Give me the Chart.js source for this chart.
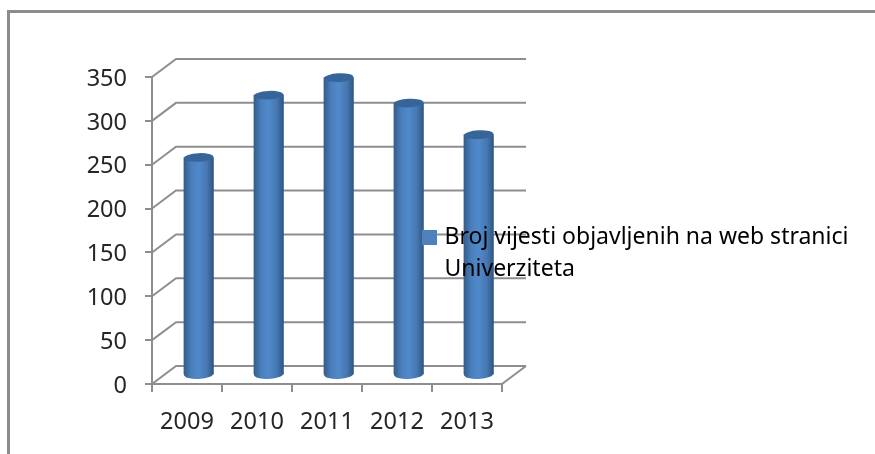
<!DOCTYPE html>
<html>
<head>
<meta charset="utf-8">
<title>Broj vijesti</title>
<script src="https://cdn.jsdelivr.net/npm/chart.js@4/dist/chart.umd.min.js"></script>
<style>
  html, body { margin: 0; padding: 0; background: #fff; overflow: hidden; }
  #wrap { position: relative; width: 875px; height: 454px; }
  #frame { position: absolute; left: 7px; top: 10px; right: 0; bottom: 0; border-top: 3px solid #8c8c8c; border-left: 3px solid #8c8c8c; }
  #chart { position: absolute; left: 0; top: 0; }
</style>
</head>
<body>
<div id="wrap">
  <div id="frame"></div>
  <canvas id="chart" width="875" height="454"></canvas>
</div>
<script>
// values
const years = ['2009', '2010', '2011', '2012', '2013'];
const newsCount = [248, 319, 339, 310, 274];
const seriesLabel = ['Broj vijesti objavljenih na web stranici', 'Univerziteta'];
const yTicks = [0, 50, 100, 150, 200, 250, 300, 350];

const GREY = '#8e8e8e';
const FONT = { family: '"Noto Sans", sans-serif', size: 23.5 };
// depth of the fake 3d box
const DEPTH_X = 24, DEPTH_Y = -18;
const BAR_DX = 11.7, BAR_DY = -9;

function barGradient(ctx, left, right) {
  const g = ctx.createLinearGradient(left, 0, right, 0);
  g.addColorStop(0, '#335d8d');
  g.addColorStop(0.25, '#4a7fbc');
  g.addColorStop(0.5, '#5089cb');
  g.addColorStop(0.78, '#4677b0');
  g.addColorStop(1, '#2f5683');
  return g;
}

const box3d = {
  id: 'box3d',
  beforeLayout(chart) {
    // legend text sits on top of the bars
    chart.legend._layers = () => [{ z: 1, draw: area => chart.legend.draw(area) }];
  },
  afterLayout(chart) {
    const l = chart.legend;
    l.left = 416; l.right = 875; l.top = 216; l.bottom = 300;
    l.width = 459; l.height = 84;
  },
  beforeDatasetsDraw(chart) {
    const { ctx, scales: { x, y } } = chart;
    const a = chart.chartArea;
    ctx.save();
    ctx.strokeStyle = GREY;
    ctx.lineWidth = 2;
    yTicks.forEach(v => {
      const py = y.getPixelForValue(v);
      ctx.beginPath();
      ctx.moveTo(a.left, py);
      ctx.lineTo(a.left + DEPTH_X, py + DEPTH_Y);
      ctx.lineTo(a.right + DEPTH_X, py + DEPTH_Y);
      ctx.stroke();
    });
    ctx.beginPath();
    ctx.moveTo(a.right, a.bottom);
    ctx.lineTo(a.right + DEPTH_X, a.bottom + DEPTH_Y);
    ctx.stroke();
    // bottoms of the cylinders
    chart.getDatasetMeta(0).data.forEach(bar => {
      const r = bar.width / 2;
      ctx.fillStyle = barGradient(ctx, bar.x + BAR_DX - r, bar.x + BAR_DX + r);
      ctx.beginPath();
      ctx.ellipse(bar.x + BAR_DX, bar.base + BAR_DY, r, 5, -0.05, 0, Math.PI * 2);
      ctx.fill();
    });
    ctx.restore();
    ctx.save();
    ctx.translate(BAR_DX, BAR_DY);
  },
  afterDatasetsDraw(chart) {
    const ctx = chart.ctx;
    ctx.restore();
    ctx.save();
    chart.getDatasetMeta(0).data.forEach(bar => {
      ctx.fillStyle = '#37659a';
      ctx.beginPath();
      ctx.ellipse(bar.x + BAR_DX, bar.y + BAR_DY, bar.width / 2, 4.3, -0.05, 0, Math.PI * 2);
      ctx.fill();
    });
    ctx.restore();
  }
};

new Chart(document.getElementById('chart').getContext('2d'), {
  type: 'bar',
  data: {
    labels: years,
    datasets: [{
      label: seriesLabel,
      data: newsCount,
      barThickness: 29.5,
      backgroundColor: c => {
        const px = c.chart.scales.x.getPixelForValue(c.dataIndex);
        return barGradient(c.chart.ctx, px - 14.75, px + 14.75);
      }
    }]
  },
  options: {
    responsive: false,
    animation: false,
    layout: { padding: { left: 0, top: 77, right: 373, bottom: 0 } },
    scales: {
      x: {
        afterFit: s => { s.height = 70; },
        border: { color: GREY, width: 2 },
        grid: { drawOnChartArea: false, color: GREY, lineWidth: 2, tickLength: 8 },
        ticks: { color: '#262626', font: FONT, padding: 16, maxRotation: 0 }
      },
      y: {
        min: 0,
        max: 350,
        afterFit: s => { s.width = 152; },
        border: { color: GREY, width: 2 },
        grid: { drawOnChartArea: false, color: GREY, lineWidth: 2, tickLength: 7 },
        ticks: { color: '#262626', font: FONT, stepSize: 50, padding: 18, labelOffset: 2 }
      }
    },
    plugins: {
      tooltip: { enabled: false },
      legend: {
        position: 'chartArea',
        align: 'start',
        labels: {
          color: '#262626',
          // small box + thick outline keeps the text close to the square
          boxWidth: 7,
          boxHeight: 7,
          padding: 10,
          font: { family: FONT.family, size: 23, lineHeight: 1.4 },
          generateLabels: chart => [{
            text: seriesLabel,
            fillStyle: '#4f81bd',
            strokeStyle: '#4f81bd',
            lineWidth: 8,
            datasetIndex: 0
          }]
        }
      }
    }
  },
  plugins: [box3d]
});
</script>
</body>
</html>
